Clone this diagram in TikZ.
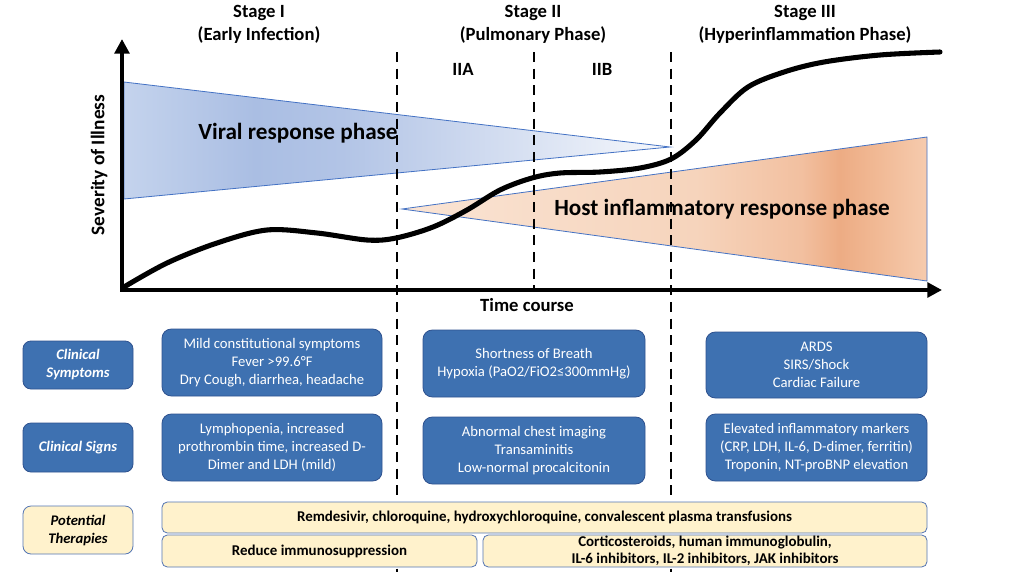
\documentclass[tikz,border=0pt]{standalone}
\usepackage{fontspec}
\setmainfont{Carlito}
\usetikzlibrary{arrows.meta}
\definecolor{boxblue}{RGB}{62,113,177}
\definecolor{boxedge}{RGB}{47,82,143}
\definecolor{therafill}{RGB}{255,242,204}
\definecolor{theraedge}{RGB}{84,118,180}
\definecolor{triedgec}{RGB}{68,114,196}
\definecolor{vA}{RGB}{196,211,237}
\definecolor{vB}{RGB}{170,190,227}
\definecolor{vC}{RGB}{178,196,230}
\definecolor{vD}{RGB}{203,215,238}
\definecolor{vE}{RGB}{246,248,252}
\definecolor{hA}{RGB}{250,228,212}
\definecolor{hB}{RGB}{246,212,188}
\definecolor{hC}{RGB}{242,192,160}
\definecolor{hD}{RGB}{237,172,132}
\definecolor{hE}{RGB}{241,186,150}
\definecolor{hF}{RGB}{246,203,174}
\pgfdeclarehorizontalshading{viralsh}{100bp}{color(0bp)=(vA); color(25bp)=(vA); color(37bp)=(vB); color(45bp)=(vC); color(56bp)=(vD); color(75bp)=(vE); color(100bp)=(vE)}
\pgfdeclarehorizontalshading{hostsh}{100bp}{color(0bp)=(hA); color(25bp)=(hA); color(53bp)=(hB); color(63bp)=(hC); color(66.7bp)=(hD); color(70.5bp)=(hE); color(75bp)=(hF); color(100bp)=(hF)}
\newcommand\bnode[7]{\node[#1, minimum width={(#4-#2)*0.75pt}, minimum height={(#5-#3)*0.75pt}] (#6) at ({(#2+#4)/2},{(#3+#5)/2}) {#7};}
\begin{document}
\begin{tikzpicture}[x=0.75pt,y=-0.75pt,
  stagelbl/.style={font=\fontsize{14}{17}\selectfont\bfseries, align=center, inner sep=0pt},
  phasetxt/.style={font=\fontsize{17.4}{20}\selectfont\bfseries, inner sep=0pt},
  axlbl/.style={font=\fontsize{14.5}{17}\selectfont\bfseries, inner sep=0pt},
  triedge/.style={draw=triedgec, line width=0.6pt},
  phaseline/.style={line width=1.6pt, dash pattern=on 7.5pt off 5pt},
  curvestyle/.style={line width=3.8pt, line cap=round, line join=round},
  axisstyle/.style={line width=3pt, line join=miter},
  blbox/.style={draw=boxedge, line width=0.6pt, fill=boxblue, rounded corners=7pt, text=white, align=center, inner sep=0pt, font=\fontsize{11}{13.5}\selectfont},
  lblbox/.style={blbox, rounded corners=6pt, font=\fontsize{11}{13.5}\selectfont\bfseries\itshape},
  ylbox/.style={draw=theraedge, line width=0.6pt, fill=therafill, rounded corners=4pt, text=black, align=center, inner sep=0pt, font=\fontsize{11.2}{13}\selectfont\bfseries},
  ylblbox/.style={ylbox, rounded corners=6pt, font=\fontsize{11}{13.5}\selectfont\bfseries\itshape}
]
\useasboundingbox[fill=white] (0,0) rectangle (1024,575);

% response phase wedges
\path[triedge, shading=viralsh] (124,82) -- (670,147) -- (124,199) -- cycle;
\path[triedge, shading=hostsh] (402,209) -- (927,137) -- (927,281) -- cycle;

% phase separators
\coordinate (d1t) at (397,52); \coordinate (d1b) at (397,572);
\coordinate (d2t) at (534,52); \coordinate (d2b) at (534,288);
\coordinate (d3t) at (671,52); \coordinate (d3b) at (671,572);
\draw[phaseline] (d1t) -- (d1b);
\draw[phaseline] (d2t) -- (d2b);
\draw[phaseline] (d3t) -- (d3b);

% severity curve
\draw[curvestyle] plot[smooth, tension=0.55] coordinates {(124,287) (167,263) (217,243) (267,230) (317,233) (367,240) (396,238) (433,227) (467,210) (500,190) (532,178) (560,173) (600,172) (640,168) (671,159) (696,140) (720,113) (748,87) (784,72) (824,62) (880,55) (940,52)};

% axes
\coordinate (O) at (122,290);
\coordinate (ytip) at (122,39);
\coordinate (xtip) at (942,290);
\draw[axisstyle, {Triangle[length=11pt,width=11pt]}-{Triangle[length=11pt,width=11pt]}] (ytip) -- (O) -- (xtip);

% labels
\node[phasetxt] (viral) at (298,133) {Viral response phase};
\node[phasetxt] (host) at (722,209) {Host inflammatory response phase};
\node[axlbl, rotate=90] (sev) at (99,165) {Severity of Illness};
\node[axlbl, font=\fontsize{14}{17}\selectfont\bfseries] (time) at (527,305) {Time course};
\node[stagelbl] (s1) at (259,24.5) {Stage I\\(Early Infection)};
\node[stagelbl] (s2) at (533,24.5) {Stage II\\(Pulmonary Phase)};
\node[stagelbl] (s3) at (805,24.5) {Stage III\\(Hyperinflammation Phase)};
\node[stagelbl] (s2a) at (463,69) {IIA};
\node[stagelbl] (s2b) at (602,69) {IIB};

% row labels
\bnode{lblbox}{23}{341}{133}{389}{lsym}{Clinical\\Symptoms}
\bnode{lblbox}{23}{423}{133}{472}{lsig}{Clinical Signs}
\bnode{ylblbox}{23}{506}{133}{554}{lthe}{Potential\\Therapies}

% clinical symptoms
\bnode{blbox}{162}{329}{382}{396}{sym1}{Mild constitutional symptoms\\Fever >99.6°F\\Dry Cough, diarrhea, headache}
\bnode{blbox}{423}{330}{645}{397}{sym2}{Shortness of Breath\\Hypoxia (PaO2/FiO2≤300mmHg)}
\bnode{blbox}{706}{332}{927}{398}{sym3}{ARDS\\SIRS/Shock\\Cardiac Failure}

% clinical signs
\bnode{blbox}{162}{414}{382}{481}{sig1}{Lymphopenia, increased\\prothrombin time, increased D-\\Dimer and LDH (mild)}
\bnode{blbox}{423}{417}{645}{484}{sig2}{Abnormal chest imaging\\Transaminitis\\Low-normal procalcitonin}
\bnode{blbox}{706}{414}{927}{481}{sig3}{Elevated inflammatory markers\\(CRP, LDH, IL-6, D-dimer, ferritin)\\Troponin, NT-proBNP elevation}

% therapies
\bnode{ylbox}{162}{502}{927}{533}{th1}{Remdesivir, chloroquine, hydroxychloroquine, convalescent plasma transfusions}
\bnode{ylbox}{162}{535}{477}{567}{th2}{Reduce immunosuppression}
\bnode{ylbox}{483}{535}{927}{567}{th3}{Corticosteroids, human immunoglobulin,\\IL-6 inhibitors, IL-2 inhibitors, JAK inhibitors}
\end{tikzpicture}
\end{document}
